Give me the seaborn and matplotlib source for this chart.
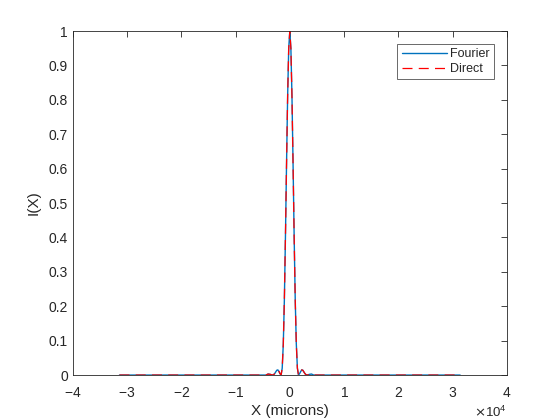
import numpy as np
import pandas as pd
import matplotlib
matplotlib.use("Agg")
import matplotlib.pyplot as plt
import seaborn as sns
from matplotlib.ticker import ScalarFormatter

# polozaj X (mikroni), desna polovina - kriva je simetricna
X_HALF = [0, 200, 400, 600, 800, 1000, 1200, 1400, 1600, 1800, 2000, 2200,
          2400, 2600, 2800, 3000, 3200, 3600, 4000, 4400, 5000, 10000, 20000, 31400]

# intenzitet (Fourier)
I_FOURIER_HALF = [1.0, 0.95, 0.81, 0.615, 0.405, 0.22, 0.09, 0.02, 0.0, 0.004,
                  0.010, 0.015, 0.014, 0.009, 0.004, 0.001, 0.0, 0.002, 0.003,
                  0.0, 0.0, 0.0, 0.0, 0.0]

# intenzitet (direktno racunanje)
I_DIRECT_HALF = [1.0, 0.95, 0.81, 0.615, 0.405, 0.22, 0.09, 0.02, 0.0, 0.004,
                 0.011, 0.015, 0.014, 0.009, 0.004, 0.001, 0.0, 0.002, 0.003,
                 0.0, 0.0, 0.0, 0.0, 0.0]

X_TICKS = [-4e4, -3e4, -2e4, -1e4, 0, 1e4, 2e4, 3e4, 4e4]
Y_TICKS = [0, 0.1, 0.2, 0.3, 0.4, 0.5, 0.6, 0.7, 0.8, 0.9, 1.0]


def mirror(x, y):
    xs = [-v for v in x[:0:-1]] + list(x)
    ys = list(y[:0:-1]) + list(y)
    return xs, ys


x, yf = mirror(X_HALF, I_FOURIER_HALF)
_, yd = mirror(X_HALF, I_DIRECT_HALF)
df = pd.DataFrame({"x": x, "fourier": yf, "direct": yd})

sns.set_style("white")
plt.rcParams['font.family'] = ['Liberation Sans', 'DejaVu Sans']
plt.rcParams['axes.unicode_minus'] = False
AX_COLOR = "#262626"

fig = plt.figure(figsize=(5.6, 4.2), dpi=100)
ax = fig.add_axes([0.13, 0.107, 0.775, 0.819])

sns.lineplot(data=df, x="x", y="fourier", ax=ax, color="#0072BD", lw=1.0,
             label="Fourier")
sns.lineplot(data=df, x="x", y="direct", ax=ax, color="#FF0000", lw=0.9,
             label="Direct")
ax.lines[1].set_dashes([8, 5])

ax.set_xlim(-4e4, 4e4)
ax.set_ylim(0, 1)
ax.set_xticks(X_TICKS)
ax.set_yticks(Y_TICKS)
ax.set_yticklabels(["0", "0.1", "0.2", "0.3", "0.4", "0.5", "0.6", "0.7",
                    "0.8", "0.9", "1"])
fmt = ScalarFormatter(useMathText=True)
fmt.set_powerlimits((0, 0))
ax.xaxis.set_major_formatter(fmt)
ax.xaxis.get_offset_text().set_fontsize(9.5)
ax.xaxis.get_offset_text().set_color(AX_COLOR)

ax.set_xlabel("X (microns)", fontsize=11, color=AX_COLOR, labelpad=3)
ax.set_ylabel("I(X)", fontsize=11, color=AX_COLOR, labelpad=6)
ax.tick_params(direction="in", length=4, width=0.6, colors=AX_COLOR,
               labelsize=10, top=True, right=True, labeltop=False,
               labelright=False)
ax.tick_params(axis="x", pad=8)
for s in ax.spines.values():
    s.set_visible(True)
    s.set_color(AX_COLOR)
    s.set_linewidth(0.6)

leg = ax.legend(loc="upper right", fontsize=9, frameon=True, fancybox=False,
                borderaxespad=1.0, handlelength=3.6, borderpad=0.35,
                labelspacing=0.25, handletextpad=0.3)
leg.get_frame().set_edgecolor(AX_COLOR)
leg.get_frame().set_linewidth(0.6)
for h, c in zip(leg.get_lines(), ["#0072BD", "#FF0000"]):
    h.set_color(c)

fig.savefig("out.png", dpi=100)
